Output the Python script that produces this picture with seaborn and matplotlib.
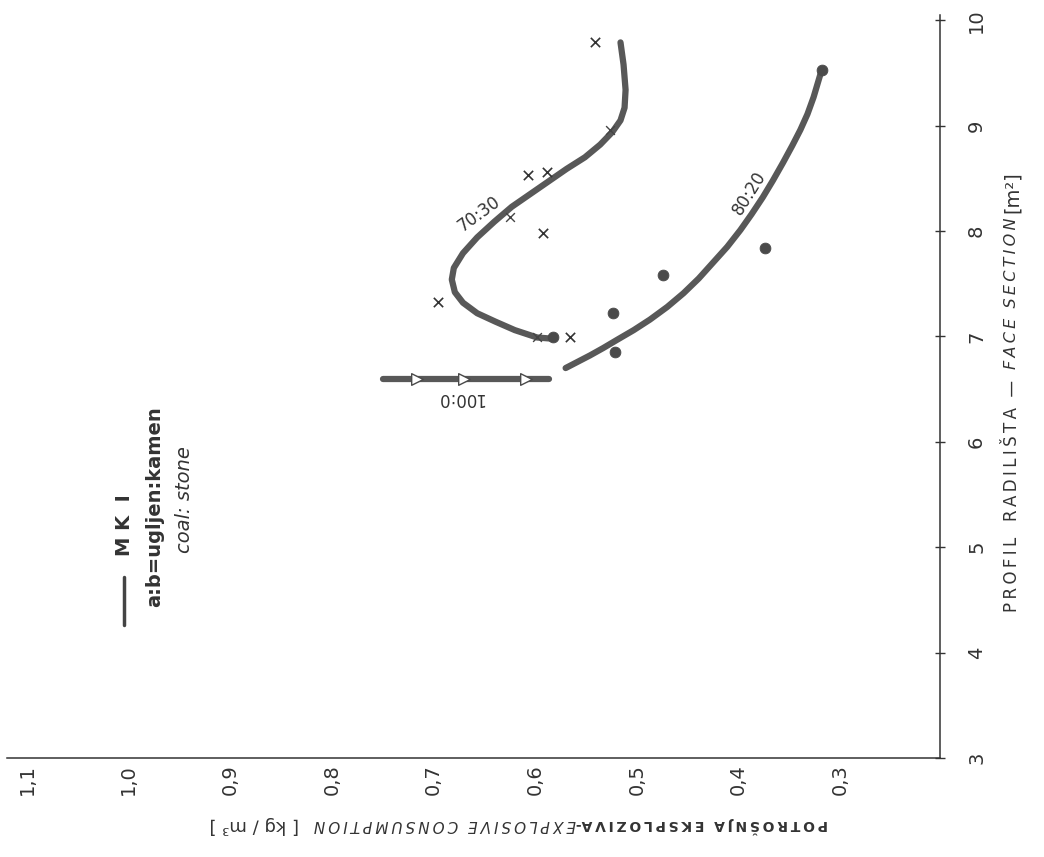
import matplotlib
matplotlib.use("Agg")
import matplotlib.pyplot as plt
import seaborn as sns
import pandas as pd

# ---------------- data ----------------
# 70:30 curve  (consumption kg/m3, face section m2)
c7030_cons = [0.516, 0.513, 0.511, 0.512, 0.516, 0.524, 0.536, 0.551, 0.569,
              0.587, 0.605, 0.623, 0.640, 0.657, 0.671, 0.680, 0.682, 0.679,
              0.671, 0.657, 0.639, 0.620, 0.598, 0.585]
c7030_prof = [9.79, 9.58, 9.34, 9.17, 9.05, 8.94, 8.82, 8.70, 8.59,
              8.47, 8.35, 8.23, 8.09, 7.94, 7.79, 7.65, 7.54, 7.42,
              7.32, 7.22, 7.14, 7.06, 6.99, 6.98]
# small tick crossings on the 70:30 curve
t7030_cons = [0.526, 0.625, 0.598]
t7030_prof = [8.96, 8.13, 6.99]
# 70:30 measured points (x)
p7030_cons = [0.541, 0.607, 0.588, 0.592, 0.696, 0.566]
p7030_prof = [9.79, 8.53, 8.56, 7.98, 7.33, 6.99]

# 80:20 curve
c8020_cons = [0.318, 0.322, 0.326, 0.332, 0.339, 0.347, 0.356, 0.366, 0.376,
              0.387, 0.398, 0.411, 0.425, 0.439, 0.454, 0.470, 0.487, 0.503,
              0.519, 0.533, 0.546, 0.558, 0.570]
c8020_prof = [9.53, 9.40, 9.27, 9.11, 8.96, 8.81, 8.65, 8.48, 8.32,
              8.16, 8.01, 7.85, 7.70, 7.55, 7.41, 7.28, 7.16, 7.06,
              6.97, 6.89, 6.82, 6.76, 6.70]
# 80:20 measured points (dots)
p8020_cons = [0.318, 0.374, 0.474, 0.523, 0.521, 0.582]
p8020_prof = [9.53, 7.84, 7.58, 7.22, 6.85, 6.99]

# 100:0 line
c1000_cons = [0.750, 0.716, 0.670, 0.609, 0.586]
c1000_prof = [6.60, 6.60, 6.60, 6.60, 6.60]
p1000_cons = [0.716, 0.670, 0.609]
p1000_prof = [6.60, 6.60, 6.60]

cons_ticks = [1.1, 1.0, 0.9, 0.8, 0.7, 0.6, 0.5, 0.4, 0.3]
cons_labels = ["1,1", "1,0", "0,9", "0,8", "0,7", "0,6", "0,5", "0,4", "0,3"]
prof_ticks = [3, 4, 5, 6, 7, 8, 9, 10]
prof_labels = ["3", "4", "5", "6", "7", "8", "9", "10"]

# ---------------- plotting ----------------
sns.set_theme(style="white")
plt.rcParams["font.family"] = ["DejaVu Sans"]

W, H = 1044, 857
fig = plt.figure(figsize=(W / 100, H / 100), dpi=100, facecolor="white")
ax = fig.add_axes([7 / W, 1 - 758 / H, (940 - 7) / W, (758 - 15) / H])
ax.set_facecolor("white")

curve_col = "#585858"
ink = "#333333"

df7030 = pd.DataFrame({"cons": c7030_cons, "prof": c7030_prof})
df8020 = pd.DataFrame({"cons": c8020_cons, "prof": c8020_prof})
df1000 = pd.DataFrame({"cons": c1000_cons, "prof": c1000_prof})

for d in (df7030, df8020, df1000):
    sns.lineplot(data=d, x="cons", y="prof", sort=False, estimator=None,
                 color=curve_col, linewidth=4.5, solid_capstyle="round",
                 solid_joinstyle="round", ax=ax)

sns.scatterplot(x=t7030_cons, y=t7030_prof, marker="x", s=40, color="#444",
                linewidth=1.0, ax=ax, zorder=5)
sns.scatterplot(x=p7030_cons, y=p7030_prof, marker="x", s=45, color=ink,
                linewidth=1.2, ax=ax, zorder=5)
sns.scatterplot(x=p8020_cons, y=p8020_prof, marker="o", s=60, color="#4a4a4a",
                edgecolor="#4a4a4a", ax=ax, zorder=5)
sns.scatterplot(x=p1000_cons, y=p1000_prof, marker=">", s=70, color="white",
                edgecolor="#4a4a4a", linewidth=1.0, ax=ax, zorder=5)

ax.set_xlim(1.1197, 0.2016)
ax.set_ylim(3, 10.05)

ax.set_xticks(cons_ticks)
ax.set_xticklabels(cons_labels, rotation=90, fontsize=14, color=ink)
ax.yaxis.tick_right()
ax.set_yticks(prof_ticks)
ax.set_yticklabels(prof_labels, rotation=90, fontsize=14, color=ink,
                   va="center")
ax.tick_params(axis="x", direction="inout", length=7, width=1, color=ink, pad=1)
ax.tick_params(axis="y", direction="inout", length=7, width=1, color=ink, pad=16,
               right=True, left=False)
ax.set_xlabel("")
ax.set_ylabel("")
for s in ("top", "left"):
    ax.spines[s].set_visible(False)
for s in ("bottom", "right"):
    ax.spines[s].set_color(ink)
    ax.spines[s].set_linewidth(1.1)

# curve labels
ax.text(0.655, 8.16, "70:30", rotation=36, fontsize=12, color=ink,
        ha="center", va="center")
ax.text(0.389, 8.36, "80:20", rotation=58, fontsize=12, color=ink,
        ha="center", va="center")
ax.text(0.674, 6.42, "100:0", rotation=180, fontsize=12, color=ink,
        ha="center", va="center")


def fx(px):
    return px / W


def fy(py):
    return 1 - py / H


# legend block (rotated)
fig.add_artist(plt.Line2D([fx(124), fx(124)], [fy(625), fy(577)],
                          color="#444", linewidth=2.5))
fig.text(fx(124), fy(556), "M K  I", rotation=90, fontsize=14, fontweight="bold",
         color=ink, ha="center", va="bottom")
fig.text(fx(155), fy(607), "a:b=ugljen:kamen", rotation=90, fontsize=14,
         fontweight="bold", color=ink, ha="center", va="bottom")
fig.text(fx(185), fy(553), "coal: stone", rotation=90, fontsize=14,
         style="italic", color=ink, ha="center", va="bottom")

TS = "\u2009"


def spaced(s):
    return TS.join(list(s))


renderer = fig.canvas.get_renderer()

# right axis title (rotated, reading upwards), chained pieces
pieces_r = [(spaced("PROFIL") + "   " + spaced("RADILIŠTA") + "  —  ", dict(fontsize=12)),
            (spaced("FACE") + "  " + spaced("SECTION") + " ", dict(fontsize=11.5, style="italic")),
            ("[m²]", dict(fontsize=14))]
ypos = 612
for txt, kw in pieces_r:
    t = fig.text(fx(1012), fy(ypos), txt, rotation=90, color=ink,
                 ha="center", va="bottom", **kw)
    bb = t.get_window_extent(renderer)
    ypos -= bb.height

# bottom axis title (upside down), chained pieces
pieces_b = [(spaced("POTROŠNJA") + "  " + spaced("EKSPLOZIVA") + "-", dict(fontsize=10, fontweight="bold")),
            (spaced("EXPLOSIVE") + "  " + spaced("CONSUMPTION") + "   ", dict(fontsize=11, style="italic")),
            ("[ kg / m³ ]", dict(fontsize=13))]
xpos = 828
for txt, kw in pieces_b:
    t = fig.text(fx(xpos), fy(825), txt, rotation=180, color=ink,
                 ha="right", va="center", **kw)
    bb = t.get_window_extent(renderer)
    xpos -= bb.width

fig.savefig("out.png", dpi=100, facecolor="white")
